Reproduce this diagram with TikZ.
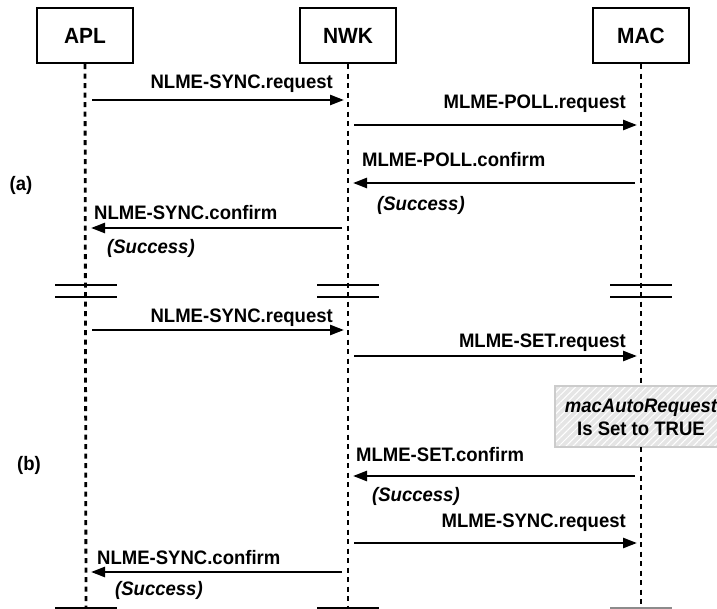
\documentclass[tikz,border=0pt]{standalone}
\usepackage{fontspec}
\setmainfont{Liberation Sans}[FakeStretch=0.95]
\usetikzlibrary{arrows.meta,patterns.meta}
\begin{document}
\begin{tikzpicture}[x=1pt,y=-1pt,
  entity/.style={draw,line width=2.4pt,minimum width=96pt,minimum height=55pt,inner sep=0pt,
    font=\bfseries\fontsize{22}{24}\selectfont},
  lifeline/.style={line width=2.8pt,dash pattern=on 5pt off 4.5pt},
  msg/.style={line width=2.5pt,-{Triangle[length=14pt,width=10pt]}},
  lbl/.style={inner sep=0pt,font=\bfseries\fontsize{19.5}{22}\selectfont},
  ilbl/.style={inner sep=0pt,font=\bfseries\itshape\fontsize{19.5}{22}\selectfont},
  brk/.style={line width=2.5pt},
  endl/.style={line width=2.5pt}]
\useasboundingbox (0,0) rectangle (717,609);
% entities
\node[entity] (apl) at (85,35.5) {APL};
\node[entity] (nwk) at (348,35.5) {NWK};
\node[entity] (mac) at (641,35.5) {MAC};
% lifeline coordinates
\coordinate (aplend) at (86,609);
\coordinate (nwkend) at (348,609);
\coordinate (macA) at (641,386);
\coordinate (macB) at (641,447);
\coordinate (macend) at (641,609);
% note box
\fill[black!10] (555,386) rectangle (725,447);
\fill[pattern={Lines[angle=45,distance=5pt,line width=1pt]},pattern color=white] (555,386) rectangle (725,447);
\draw[black!20,line width=1.5pt] (725,386) -- (555,386) -- (555,447) -- (725,447);
\node[ilbl] (note1) at (641,408) {macAutoRequest};
\node[lbl] (note2) at (641,429) {Is Set to TRUE};
% lifelines
\draw[lifeline] (apl.south) -- (aplend);
\draw[lifeline] (nwk.south) -- (nwkend);
\draw[lifeline] (mac.south) -- (macA);
\draw[lifeline] (macB) -- (macend);
% break marks
\foreach \x in {86,348,641}{
  \draw[brk] (\x-31,285) -- (\x+31,285);
  \draw[brk] (\x-31,297) -- (\x+31,297);
}
\draw[endl] (55,608) -- (117,608);
\draw[endl] (317,608) -- (379,608);
\draw[endl,black!45] (610,608) -- (672,608);
% row coordinates
\foreach \y/\i in {100/1,125/2,183/3,228/4,330/5,356/6,476/8,543/9,572/10}{
  \coordinate (A\i) at (86,\y);
  \coordinate (N\i) at (348,\y);
  \coordinate (M\i) at (641,\y);
}
% (a)
\node[lbl] (la) at (21,185) {(a)};
\node[lbl,anchor=east] (t1) at (333,84) {NLME-SYNC.request};
\draw[msg] ([xshift=6pt]A1) -- ([xshift=-4pt]N1);
\node[lbl,anchor=east] (t2) at (626,104) {MLME-POLL.request};
\draw[msg] ([xshift=6pt]N2) -- ([xshift=-4pt]M2);
\node[lbl,anchor=west] (t3) at (362,160) {MLME-POLL.confirm};
\draw[msg] ([xshift=-6pt]M3) -- ([xshift=5pt]N3);
\node[ilbl,anchor=west] (s3) at (377,205) {(Success)};
\node[lbl,anchor=west] (t4) at (94,213) {NLME-SYNC.confirm};
\draw[msg] ([xshift=-6pt]N4) -- ([xshift=5pt]A4);
\node[ilbl,anchor=west] (s4) at (107,248) {(Success)};
% (b)
\node[lbl] (lb) at (29,465) {(b)};
\node[lbl,anchor=east] (t5) at (333,318) {NLME-SYNC.request};
\draw[msg] ([xshift=6pt]A5) -- ([xshift=-4pt]N5);
\node[lbl,anchor=east] (t6) at (626,343) {MLME-SET.request};
\draw[msg] ([xshift=6pt]N6) -- ([xshift=-4pt]M6);
\node[lbl,anchor=west] (t8) at (356,455) {MLME-SET.confirm};
\draw[msg] ([xshift=-6pt]M8) -- ([xshift=5pt]N8);
\node[ilbl,anchor=west] (s8) at (372,496) {(Success)};
\node[lbl,anchor=east] (t9) at (626,523) {MLME-SYNC.request};
\draw[msg] ([xshift=6pt]N9) -- ([xshift=-4pt]M9);
\node[lbl,anchor=west] (t10) at (97,558) {NLME-SYNC.confirm};
\draw[msg] ([xshift=-6pt]N10) -- ([xshift=5pt]A10);
\node[ilbl,anchor=west] (s10) at (115,590) {(Success)};
\end{tikzpicture}
\end{document}
